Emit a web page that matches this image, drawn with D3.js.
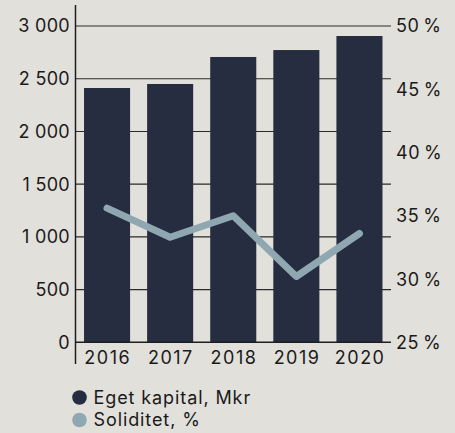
<!DOCTYPE html>
<html><head><meta charset="utf-8">
<script src="https://cdn.jsdelivr.net/npm/d3@7"></script>
<style>
html,body{margin:0;padding:0;background:#e2e0da;}
svg{display:block;}
text{font-family:Inter, "Noto Sans", sans-serif;fill:#1a1a1a;}
</style></head>
<body>
<svg id="c" width="455" height="433"></svg>
<script>
const years = ["2016","2017","2018","2019","2020"];
const egetKapital = [2412, 2450, 2706, 2772, 2905];
const soliditet = [35.6, 33.3, 35.0, 30.2, 33.6];
const leftTicks = [0, 500, 1000, 1500, 2000, 2500, 3000];
const rightTicks = [25, 30, 35, 40, 45, 50];
const legendLabels = ["Eget kapital, Mkr", "Soliditet, %"];
const colors = ["#272d40", "#8fa7b1"];

const svg = d3.select("#c");
const x0 = 75.5, x1 = 391, yTop = 26, yBase = 342.3;
const x = d3.scaleBand().domain(years).range([x0, x1]).paddingInner(0.27).paddingOuter(0.135);
const y = d3.scaleLinear().domain([0, 3000]).range([yBase, yTop]);
const yr = d3.scaleLinear().domain([25, 50]).range([yBase, yTop]);
const fmt = v => d3.format(",")(v).replace(/,/g, " ");

// gridlines
svg.append("g").selectAll("line").data(leftTicks.filter(d => d > 0)).join("line")
  .attr("x1", x0).attr("x2", x1).attr("y1", d => y(d)).attr("y2", d => y(d))
  .attr("stroke", "#2a2a2a").attr("stroke-width", 1.1);

// bars
svg.append("g").selectAll("rect").data(years).join("rect")
  .attr("x", d => x(d)).attr("width", x.bandwidth())
  .attr("y", (d, i) => y(egetKapital[i])).attr("height", (d, i) => yBase - y(egetKapital[i]))
  .attr("fill", colors[0]);

// baseline and left axis line
svg.append("line").attr("x1", x0).attr("x2", x1).attr("y1", yBase).attr("y2", yBase)
  .attr("stroke", "#1e1e1e").attr("stroke-width", 1.5);
svg.append("line").attr("x1", x0).attr("x2", x0).attr("y1", 5).attr("y2", 364)
  .attr("stroke", "#1e1e1e").attr("stroke-width", 1.5);

// line
const line = d3.line().x((d, i) => x(years[i]) + x.bandwidth() / 2).y(d => yr(d));
svg.append("path").datum(soliditet).attr("d", line)
  .attr("fill", "none").attr("stroke", colors[1]).attr("stroke-width", 7)
  .attr("stroke-linecap", "round").attr("stroke-linejoin", "round");

// left labels
svg.append("g").selectAll("text").data(leftTicks).join("text")
  .attr("x", 70).attr("y", d => y(d)).attr("dy", "0.36em")
  .attr("text-anchor", "end").attr("font-size", 18).attr("letter-spacing", 0.3)
  .text(fmt);

// right labels
svg.append("g").selectAll("text").data(rightTicks).join("text")
  .attr("x", 396).attr("y", d => yr(d)).attr("dy", "0.36em")
  .attr("font-size", 18).attr("letter-spacing", 0.6).text(d => d + "\u2009%");

// x labels
svg.append("g").selectAll("text").data(years).join("text")
  .attr("x", d => x(d) + x.bandwidth() / 2 + 0.7).attr("y", 358).attr("dy", "0.36em")
  .attr("text-anchor", "middle").attr("font-size", 18).attr("letter-spacing", 1.5).text(d => d);

// legend
const lg = svg.append("g").selectAll("g").data(legendLabels).join("g")
  .attr("transform", (d, i) => `translate(79.5,${397.5 + i * 22.5})`);
lg.append("circle").attr("r", 7.3).attr("fill", (d, i) => colors[i]);
lg.append("text").attr("x", 14).attr("dy", "0.36em").attr("font-size", 18)
  .attr("letter-spacing", 0.9).text(d => d);
</script>
</body></html>
